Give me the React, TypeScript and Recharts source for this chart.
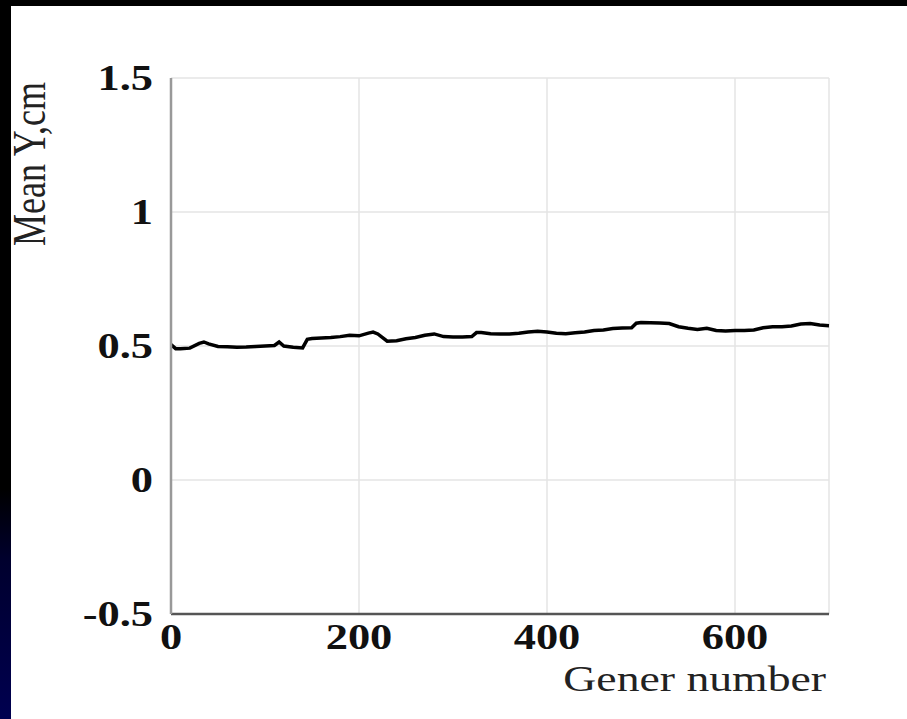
import React from 'react'
import { LineChart, Line, XAxis, YAxis, CartesianGrid } from 'recharts'

// generation index and mean Y position (cm)
const generNumbers = [
  0, 5, 10, 20, 30, 35, 40, 50, 60, 70, 80, 90, 100, 110, 115, 120, 130, 140, 145, 150,
  160, 170, 180, 190, 200, 210, 215, 220, 230, 240, 250, 260, 270, 280, 290, 300, 310, 320,
  325, 330, 340, 350, 360, 370, 380, 390, 400, 410, 420, 430, 440, 450, 460, 470, 480, 490,
  495, 500, 510, 520, 530, 540, 550, 560, 570, 580, 590, 600, 610, 620, 630, 640, 650, 660,
  670, 680, 690, 700,
]
const meanY = [
  0.505, 0.49, 0.49, 0.492, 0.51, 0.515, 0.508, 0.498, 0.497, 0.495, 0.496, 0.498, 0.5, 0.502,
  0.515, 0.5, 0.495, 0.493, 0.525, 0.528, 0.53, 0.532, 0.535, 0.54, 0.538, 0.548, 0.552, 0.545,
  0.518, 0.52, 0.527, 0.532, 0.54, 0.545, 0.535, 0.534, 0.534, 0.535, 0.55, 0.55, 0.546, 0.545,
  0.545, 0.548, 0.552, 0.555, 0.552, 0.548, 0.546, 0.549, 0.552, 0.558, 0.56, 0.565, 0.567,
  0.568, 0.585, 0.588, 0.587, 0.586, 0.584, 0.572, 0.566, 0.562, 0.566, 0.558, 0.556, 0.558,
  0.558, 0.56, 0.568, 0.572, 0.572, 0.575, 0.582, 0.584, 0.578, 0.576,
]
const xTicks = [0, 200, 400, 600]
const yTicks = [-0.5, 0, 0.5, 1, 1.5]
const yTickLabels = ['-0.5', '0', '0.5', '1', '1.5']

const data = generNumbers.map((g, i) => ({ gen: g, y: meanY[i] }))

const FONT = '"Liberation Serif", "Times New Roman", serif'
const STRETCH = 1.27

function XTick({ x, y, payload }: any) {
  return (
    <g transform={`translate(${x},${y + 15}) scale(${STRETCH},1)`}>
      <text textAnchor="middle" dominantBaseline="central" fontFamily={FONT} fontWeight="bold" fontSize={35} fill="#111">
        {payload.value}
      </text>
    </g>
  )
}

function YTick({ x, y, payload }: any) {
  const idx = yTicks.indexOf(payload.value)
  return (
    <g transform={`translate(${x - 10},${y}) scale(${STRETCH},1)`}>
      <text textAnchor="end" dominantBaseline="central" fontFamily={FONT} fontWeight="bold" fontSize={35} fill="#111">
        {idx >= 0 ? yTickLabels[idx] : payload.value}
      </text>
    </g>
  )
}

export default function App() {
  return (
    <div style={{ position: 'fixed', left: 0, top: 0, width: 907, height: 719, background: '#000' }}>
      <div
        style={{
          position: 'absolute', left: 0, top: 0, width: 11, height: 719,
          background: 'linear-gradient(#000 0%, #000 68%, #00002e 78%, #000050 100%)',
        }}
      />
      <div style={{ position: 'absolute', left: 11, top: 6, width: 896, height: 713, background: '#fff' }} />
      <div style={{ position: 'absolute', left: 0, top: 0 }}>
        <LineChart width={907} height={719} data={data} margin={{ top: 78, right: 78, bottom: 65, left: 111 }}>
          <CartesianGrid stroke="#e4e4e4" strokeWidth={1.5} />
          <XAxis
            dataKey="gen"
            type="number"
            domain={[0, 700]}
            ticks={xTicks}
            height={40}
            tickLine={false}
            axisLine={{ stroke: '#555', strokeWidth: 2.5 }}
            tick={<XTick />}
            interval={0}
            label={{
              content: () => (
                <g transform={`translate(826,679) scale(${STRETCH},1)`}>
                  <text textAnchor="end" dominantBaseline="central" fontFamily={FONT} fontSize={36} fill="#222">
                    Gener number
                  </text>
                </g>
              ),
            }}
          />
          <XAxis xAxisId="top" orientation="top" dataKey="gen" type="number" domain={[0, 700]} height={0}
            tick={false} tickLine={false} axisLine={{ stroke: '#aaa', strokeWidth: 3 }} />
          <YAxis
            type="number"
            domain={[-0.5, 1.5]}
            ticks={yTicks}
            width={60}
            tickLine={false}
            axisLine={{ stroke: '#999', strokeWidth: 2.5 }}
            tick={<YTick />}
            interval={0}
            label={{
              content: () => (
                <g transform={`translate(29,164) scale(1.3,1) rotate(-90)`}>
                  <text textAnchor="middle" dominantBaseline="central" fontFamily={FONT} fontSize={36} fill="#222">
                    Mean Y,cm
                  </text>
                </g>
              ),
            }}
          />
          <YAxis yAxisId="right" orientation="right" domain={[-0.5, 1.5]} width={0}
            tick={false} tickLine={false} axisLine={{ stroke: '#aaa', strokeWidth: 3 }} />
          <Line
            type="linear"
            dataKey="y"
            stroke="#000"
            strokeWidth={3.5}
            dot={false}
            isAnimationActive={false}
          />
        </LineChart>
      </div>
    </div>
  )
}
